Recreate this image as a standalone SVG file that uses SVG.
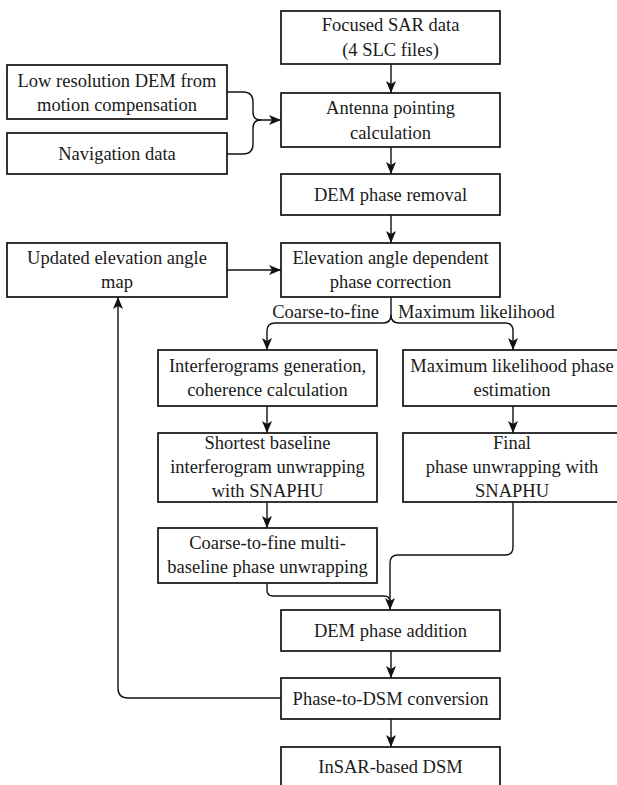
<svg xmlns="http://www.w3.org/2000/svg" width="617" height="785" viewBox="0 0 617 785">
<style>
.box{fill:#fff;stroke:#111;stroke-width:1.7}
.t{font-family:"Liberation Serif","Times New Roman",serif;font-size:18.5px;fill:#1a1a1a;text-anchor:middle}
.lbl{font-family:"Liberation Serif","Times New Roman",serif;font-size:18.5px;fill:#1a1a1a}
.c{fill:none;stroke:#111;stroke-width:1.4}
</style>
<defs>
<marker id="ah" markerUnits="userSpaceOnUse" markerWidth="12" markerHeight="10" viewBox="0 0 12 10" refX="12" refY="5" orient="auto">
<path d="M0,0 L12,5 L0,10 L3,5 Z" fill="#111"/>
</marker>
</defs>
<rect width="617" height="785" fill="#fff"/>
<g id="connectors">
<path class="c" d="M391 64 V93" marker-end="url(#ah)"/>
<path class="c" d="M391 147 V174" marker-end="url(#ah)"/>
<path class="c" d="M391 215 V243" marker-end="url(#ah)"/>
<path class="c" d="M227 92 H243 Q253 92 253 102 V112 Q253 120 261 120 H281" marker-end="url(#ah)"/>
<path class="c" d="M227 154 H243 Q253 154 253 144 V128 Q253 120 261 120"/>
<path class="c" d="M227 270 H281" marker-end="url(#ah)"/>
<path class="c" d="M391 297 V315 Q391 323 383 323 H275 Q267 323 267 331 V350" marker-end="url(#ah)"/>
<path class="c" d="M391 315 Q391 323 399 323 H505 Q513 323 513 331 V350" marker-end="url(#ah)"/>
<path class="c" d="M267 406 V433" marker-end="url(#ah)"/>
<path class="c" d="M513 406 V433" marker-end="url(#ah)"/>
<path class="c" d="M267 502 V528" marker-end="url(#ah)"/>
<path class="c" d="M513 502 V547 Q513 555 505 555 H398 Q390 555 390 563 V610" marker-end="url(#ah)"/>
<path class="c" d="M267 583 V590 Q267 596 273 596 H384 Q390 596 390 602"/>
<path class="c" d="M391 651 V678" marker-end="url(#ah)"/>
<path class="c" d="M391 719 V747" marker-end="url(#ah)"/>
<path class="c" d="M281 698 H128 Q118 698 118 688 V297" marker-end="url(#ah)"/>
</g>
<g id="focused"><rect class="box" x="281" y="11" width="219" height="53"/><text class="t" x="390.5" y="31">Focused SAR data</text><text class="t" x="390.5" y="56">(4 SLC files)</text></g>
<g id="lowres"><rect class="box" x="7" y="65" width="220" height="54"/><text class="t" x="117" y="87">Low resolution DEM from</text><text class="t" x="117" y="111">motion compensation</text></g>
<g id="navigation"><rect class="box" x="7" y="133" width="220" height="41"/><text class="t" x="117" y="160">Navigation data</text></g>
<g id="antenna"><rect class="box" x="281" y="93" width="219" height="54"/><text class="t" x="390.5" y="114">Antenna pointing</text><text class="t" x="390.5" y="139">calculation</text></g>
<g id="demremoval"><rect class="box" x="281" y="174" width="219" height="41"/><text class="t" x="390.5" y="201">DEM phase removal</text></g>
<g id="updated"><rect class="box" x="7" y="243" width="220" height="54"/><text class="t" x="117" y="264">Updated elevation angle</text><text class="t" x="117" y="288">map</text></g>
<g id="elevation"><rect class="box" x="281" y="243" width="219" height="54"/><text class="t" x="390.5" y="264">Elevation angle dependent</text><text class="t" x="390.5" y="288">phase correction</text></g>
<g id="labels"><text class="lbl" x="379" y="318" text-anchor="end">Coarse-to-fine</text><text class="lbl" x="398" y="318">Maximum likelihood</text></g>
<g id="interferograms"><rect class="box" x="158" y="350" width="219" height="56"/><text class="t" x="267.5" y="372">Interferograms generation,</text><text class="t" x="267.5" y="396">coherence calculation</text></g>
<g id="mlestimation"><rect class="box" x="403" y="350" width="218" height="56"/><text class="t" x="512" y="372">Maximum likelihood phase</text><text class="t" x="512" y="396">estimation</text></g>
<g id="shortest"><rect class="box" x="158" y="433" width="219" height="69"/><text class="t" x="267.5" y="449">Shortest baseline</text><text class="t" x="267.5" y="473">interferogram unwrapping</text><text class="t" x="267.5" y="497">with SNAPHU</text></g>
<g id="final"><rect class="box" x="403" y="433" width="218" height="69"/><text class="t" x="512" y="449">Final</text><text class="t" x="512" y="473">phase unwrapping with</text><text class="t" x="512" y="497">SNAPHU</text></g>
<g id="coarse"><rect class="box" x="158" y="528" width="219" height="55"/><text class="t" x="267.5" y="549">Coarse-to-fine multi-</text><text class="t" x="267.5" y="573">baseline phase unwrapping</text></g>
<g id="demaddition"><rect class="box" x="281" y="610" width="219" height="41"/><text class="t" x="390.5" y="637">DEM phase addition</text></g>
<g id="phasedsm"><rect class="box" x="281" y="678" width="219" height="41"/><text class="t" x="390.5" y="705">Phase-to-DSM conversion</text></g>
<g id="insar"><rect class="box" x="281" y="747" width="219" height="41"/><text class="t" x="390.5" y="773">InSAR-based DSM</text></g>
</svg>
